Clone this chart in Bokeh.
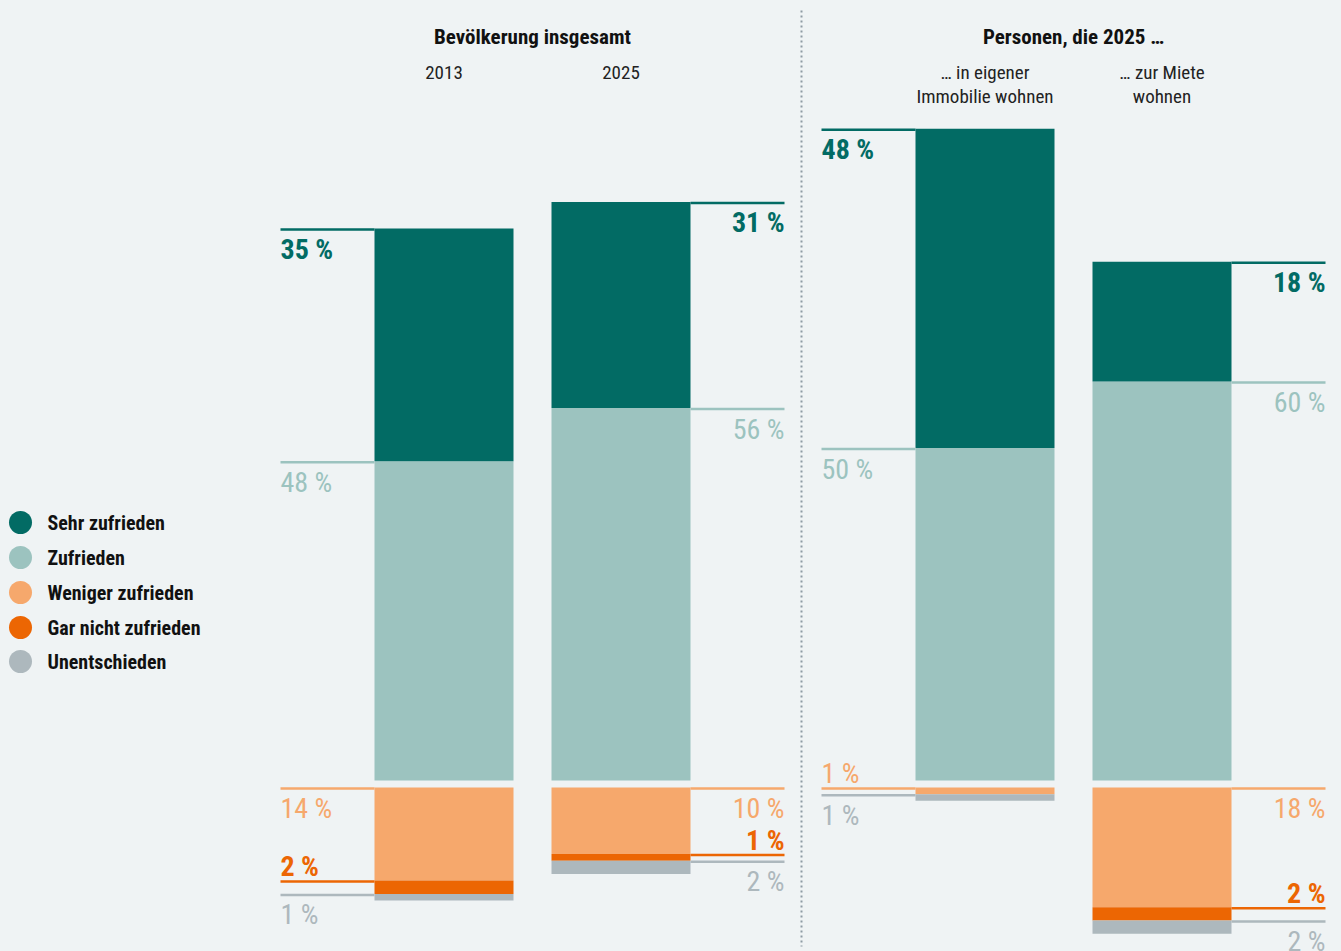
from bokeh.plotting import figure
from bokeh.models import Range1d, ColumnDataSource
from bokeh.core.properties import value
from bokeh.embed import file_html
from bokeh.resources import INLINE

# ---------------- data ----------------
groups = ["2013", "2025", "in eigener Immobilie", "zur Miete"]
series = ["Sehr zufrieden", "Zufrieden", "Weniger zufrieden", "Gar nicht zufrieden", "Unentschieden"]
sehr_zufrieden = [35, 31, 48, 18]
zufrieden = [48, 56, 50, 60]
weniger_zufrieden = [14, 10, 1, 18]
gar_nicht_zufrieden = [2, 1, 0, 2]
unentschieden = [1, 2, 1, 2]

panel_titles = ["Bevölkerung insgesamt", "Personen, die 2025 …"]
group_labels = [["2013"], ["2025"], ["… in eigener", "Immobilie wohnen"], ["… zur Miete", "wohnen"]]

# ---------------- style / layout ----------------
BG = "#eff3f4"
COLORS = {
    "Sehr zufrieden": "#026b64",
    "Zufrieden": "#9cc3bf",
    "Weniger zufrieden": "#f6a86c",
    "Gar nicht zufrieden": "#ec6603",
    "Unentschieden": "#adb8bd",
}
BOLD = {"Sehr zufrieden", "Gar nicht zufrieden"}
FONT = "Roboto Condensed, Liberation Sans Narrow, Roboto, sans-serif"

W, H = 1341, 951
PX = 6.65           # pixels per percent
BASE = 780          # page y of the positive baseline
GAP = 7 / PX        # gap between positive and negative stacks (in %)

def py(sy):
    """page pixel y -> data y (for annotations only)"""
    return (BASE - sy) / PX

bar_centers = [443.5, 620.5, 984.5, 1161.5]
bar_width = 139
label_side = ["left", "right", "left", "right"]
label_reach = 94
above_overrides = {("Weniger zufrieden", 2)}
LBL_SIZE = 28
BL_FIX = 9      # empirical baseline correction for svg text (px)

p = figure(width=W, height=H, output_backend="svg", toolbar_location=None,
           x_range=Range1d(0, W), y_range=Range1d(py(H), py(0)),
           min_border=0, background_fill_color=BG, border_fill_color=BG)
p.axis.visible = False
p.grid.visible = False
p.outline_line_color = None

values = {
    "Sehr zufrieden": sehr_zufrieden,
    "Zufrieden": zufrieden,
    "Weniger zufrieden": weniger_zufrieden,
    "Gar nicht zufrieden": gar_nicht_zufrieden,
    "Unentschieden": unentschieden,
}

pos_order = ["Zufrieden", "Sehr zufrieden"]
neg_order = ["Weniger zufrieden", "Gar nicht zufrieden", "Unentschieden"]

labels = {"x": [], "y": [], "text": [], "color": [], "align": [], "yoff": [], "style": []}
lines = {"x0": [], "x1": [], "y": [], "color": []}

def add_label(gi, s, line_y, above):
    v = values[s][gi]
    if v == 0:
        return
    cx = bar_centers[gi]
    if label_side[gi] == "left":
        edge = cx - bar_width / 2
        lx0, lx1, tx, al = edge - label_reach, edge, edge - label_reach, "left"
    else:
        edge = cx + bar_width / 2
        lx0, lx1, tx, al = edge, edge + label_reach, edge + label_reach, "right"
    lines["x0"].append(lx0); lines["x1"].append(lx1); lines["y"].append(line_y)
    lines["color"].append(COLORS[s])
    labels["x"].append(tx); labels["y"].append(line_y)
    labels["text"].append(f"{v} %"); labels["color"].append(COLORS[s])
    labels["align"].append(al)
    labels["yoff"].append((-6 if above else 29) - BL_FIX)
    labels["style"].append("bold" if s in BOLD else "normal")

cum = [0.0] * len(groups)
for s in pos_order:
    vals = values[s]
    bottoms = cum[:]
    tops = [b + v for b, v in zip(bottoms, vals)]
    p.vbar(x=bar_centers, width=bar_width, bottom=bottoms, top=tops,
           fill_color=COLORS[s], line_color=None)
    for gi in range(len(groups)):
        add_label(gi, s, tops[gi] - 1.0 / PX, False)
    cum = tops

cum = [-GAP] * len(groups)
for s in neg_order:
    vals = values[s]
    tops = cum[:]
    bottoms = [t - v for t, v in zip(tops, vals)]
    p.vbar(x=bar_centers, width=bar_width, bottom=bottoms, top=tops,
           fill_color=COLORS[s], line_color=None)
    for gi in range(len(groups)):
        above = (s == "Gar nicht zufrieden") or ((s, gi) in above_overrides)
        add_label(gi, s, tops[gi] - 1.0 / PX, above)
    cum = bottoms

p.segment(x0="x0", x1="x1", y0="y", y1="y", line_color="color", line_width=2.5,
          source=ColumnDataSource(lines))

for style in ("bold", "normal"):
    idx = [i for i, st in enumerate(labels["style"]) if st == style]
    src = ColumnDataSource({k: [labels[k][i] for i in idx] for k in labels})
    p.text(x="x", y="y", text="text", text_color="color", text_align="align",
           y_offset="yoff", text_baseline="alphabetic", text_font=value(FONT),
           text_font_size=f"{LBL_SIZE}px", text_font_style=style, source=src)

# separator
p.segment(x0=[801], x1=[801], y0=[py(10)], y1=[py(946)], line_color="#8e9ba3",
          line_width=2, line_dash="2 3")

# titles
p.text(x=[532, 1073], y=[py(43), py(43)], text=panel_titles, text_align="center",
       text_baseline="alphabetic", y_offset=-7, text_font=value(FONT), text_font_size="21px",
       text_font_style="bold", text_color="#111111")
gx, gy, gt = [], [], []
for gi, lines_txt in enumerate(group_labels):
    for li, t in enumerate(lines_txt):
        gx.append(bar_centers[gi]); gy.append(py(78 + 24 * li)); gt.append(t)
p.text(x=gx, y=gy, text=gt, text_align="center", text_baseline="alphabetic", y_offset=-6,
       text_font=value(FONT), text_font_size="19px", text_color="#222222")

# legend
leg_y = [522, 557, 592, 627, 661]
p.scatter(x=[20] * len(series), y=[py(v) for v in leg_y], size=23,
          fill_color=[COLORS[s] for s in series], line_color=None)
p.text(x=[47] * len(series), y=[py(v) for v in leg_y], text=series, text_align="left",
       text_baseline="middle", text_font=value(FONT), text_font_size="20px",
       text_font_style="bold", text_color="#111111")

html = file_html(p, INLINE)
html = html.replace("</head>", f"<style>body{{background:{BG};}}</style></head>", 1)
open("out.html", "w").write(html)
